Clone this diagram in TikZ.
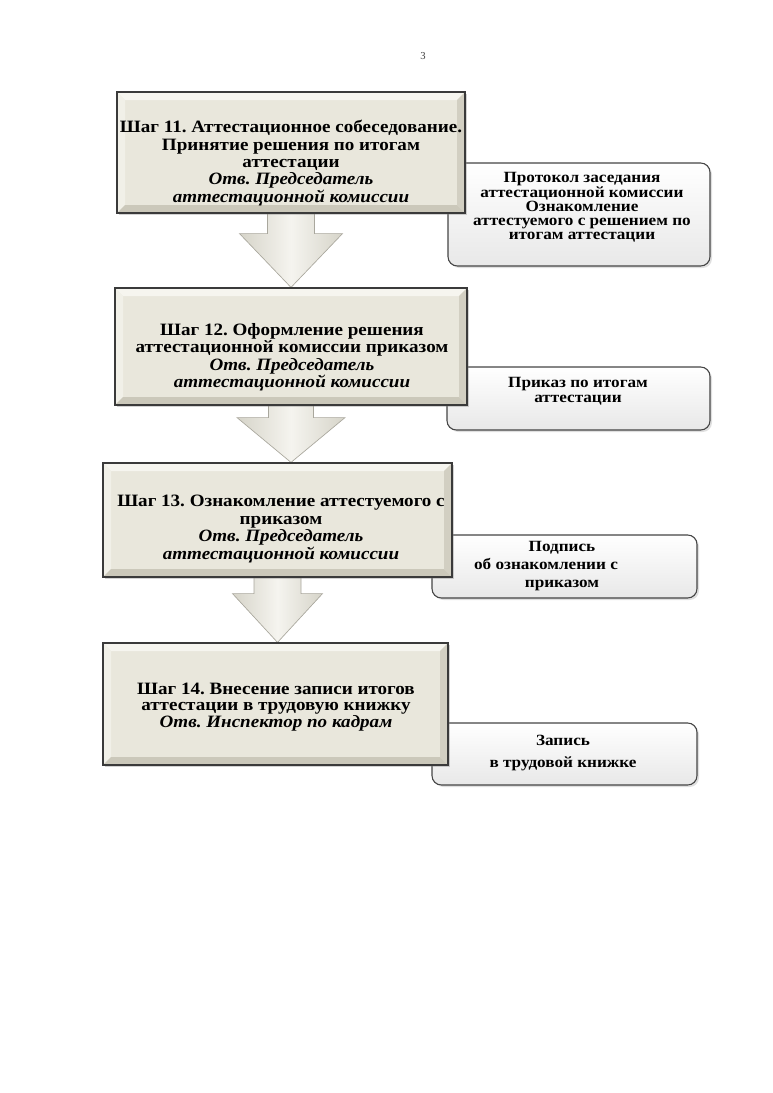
\documentclass[tikz,border=0pt]{standalone}
\usepackage{fontspec}
\setmainfont{Liberation Serif}
\newfontfamily\wideserif[FakeStretch=1.1]{Liberation Serif}
\usetikzlibrary{calc,shadows,backgrounds}
\definecolor{face}{HTML}{E9E7DC}
\definecolor{bevtop}{HTML}{F6F5EF}
\definecolor{bevleft}{HTML}{F1F0E8}
\definecolor{bevright}{HTML}{D2CFC2}
\definecolor{bevbot}{HTML}{CBC8BA}
\definecolor{edge}{HTML}{3A3A3A}
\definecolor{redge}{HTML}{454545}
\definecolor{arrowside}{HTML}{D6D4C9}
\definecolor{arrowmid}{HTML}{F5F4EF}
\definecolor{arrowedge}{HTML}{A9A79D}
\def\bv{6pt}
\newcommand\blockarrow[5]{%
  \path[arrowsty] ($(#1.south)+(-#3,-10)$) -- ($(#1.south)+(-#3,#5)$) -- ($(#1.south)+(-#4,#5)$)
    -- (#1.south |- #2.north) -- ($(#1.south)+(#4,#5)$) -- ($(#1.south)+(#3,#5)$)
    -- ($(#1.south)+(#3,-10)$) -- cycle;}
\begin{document}
\frenchspacing
\begin{tikzpicture}[x=0.75pt,y=-0.75pt,
  stepbox/.style={draw=edge, line width=0.9pt, fill=face, inner sep=0pt,
    drop shadow={shadow xshift=1.8pt, shadow yshift=-1.8pt, opacity=0.35},
    path picture={
      \fill[bevtop] (path picture bounding box.north west) -- (path picture bounding box.north east)
        -- ([xshift=-\bv,yshift=-\bv]path picture bounding box.north east)
        -- ([xshift=\bv,yshift=-\bv]path picture bounding box.north west) -- cycle;
      \fill[bevleft] (path picture bounding box.north west) -- (path picture bounding box.south west)
        -- ([xshift=\bv,yshift=\bv]path picture bounding box.south west)
        -- ([xshift=\bv,yshift=-\bv]path picture bounding box.north west) -- cycle;
      \fill[bevright] (path picture bounding box.north east) -- (path picture bounding box.south east)
        -- ([xshift=-\bv,yshift=\bv]path picture bounding box.south east)
        -- ([xshift=-\bv,yshift=-\bv]path picture bounding box.north east) -- cycle;
      \fill[bevbot] (path picture bounding box.south west) -- (path picture bounding box.south east)
        -- ([xshift=-\bv,yshift=\bv]path picture bounding box.south east)
        -- ([xshift=\bv,yshift=\bv]path picture bounding box.south west) -- cycle;
    }},
  steptext/.style={align=center, inner sep=0pt, font=\wideserif\fontsize{13}{#1}\selectfont\bfseries},
  steptext/.default=13.1pt,
  resbox/.style={draw=redge, line width=0.8pt, rounded corners=7pt, top color=white, bottom color=black!9,
    drop shadow={shadow xshift=1.5pt, shadow yshift=-1.5pt, opacity=0.25}, inner sep=0pt},
  restext/.style={align=center, inner sep=0pt, font=\wideserif\fontsize{11.7}{#1}\selectfont\bfseries},
  arrowsty/.style={draw=arrowedge, line width=0.5pt, left color=arrowside, right color=arrowside, middle color=arrowmid}
]
\useasboundingbox (0,0) rectangle (772,1093);

\node[font=\fontsize{8}{9}\selectfont, text=black!75] (pnum) at (423,56) {3};

% result boxes (behind step boxes)
\node[resbox, minimum width=196.5pt, minimum height=77.25pt] (r1) at (579,214.5) {};
\node[restext=10.6pt] (r1t) at (582,207.5) {Протокол заседания\\аттестационной комиссии\\Ознакомление\\аттестуемого с решением по\\итогам аттестации};

\node[resbox, minimum width=197.25pt, minimum height=47.25pt] (r2) at (578.5,398.5) {};
\node[restext=11.2pt] (r2t) at (578,391) {Приказ по итогам\\аттестации};

\node[resbox, minimum width=198.75pt, minimum height=47.25pt] (r3) at (564.5,566.5) {};
\node[restext=13.5pt] (r3t) at (562,566) {Подпись\\об ознакомлении с\hphantom{\hspace{24pt}}\\приказом};

\node[resbox, minimum width=198.75pt, minimum height=46.5pt] (r4) at (564.5,754) {};
\node[restext=16pt] (r4t) at (563,753) {Запись\\в трудовой книжке};

% step boxes
\node[stepbox, minimum width=261pt, minimum height=90.75pt] (s1) at (291,152.5) {};
\node[steptext] (s1t) at (291,163) {Шаг 11. Аттестационное собеседование.\\Принятие решения по итогам\\аттестации\\\textit{Отв. Председатель}\\\textit{аттестационной комиссии}};

\node[stepbox, minimum width=264pt, minimum height=87.75pt] (s2) at (291,346.5) {};
\node[steptext] (s2t) at (292,357) {Шаг 12. Оформление решения\\аттестационной комиссии приказом\\\textit{Отв. Председатель}\\\textit{аттестационной комиссии}};

\node[stepbox, minimum width=261.75pt, minimum height=85.5pt] (s3) at (277.5,520) {};
\node[steptext] (s3t) at (281,529) {Шаг 13. Ознакомление аттестуемого с\\приказом\\\textit{Отв. Председатель}\\\textit{аттестационной комиссии}};

\node[stepbox, minimum width=258.75pt, minimum height=91.5pt] (s4) at (275.5,704) {};
\node[steptext=11.6pt] (s4t) at (276,707) {Шаг 14. Внесение записи итогов\\аттестации в трудовую книжку\\\textit{Отв. Инспектор по кадрам}};

% block arrows
\begin{scope}[on background layer]
\blockarrow{s1}{s2}{23.5}{51.5}{20}
\blockarrow{s2}{s3}{22.5}{54}{12}
\blockarrow{s3}{s4}{23.5}{45}{16}
\end{scope}
\end{tikzpicture}
\end{document}
